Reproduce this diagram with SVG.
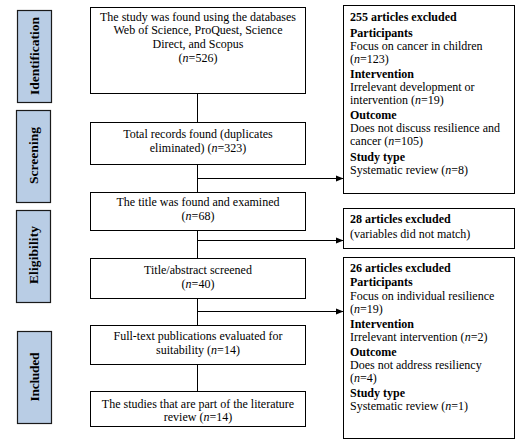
<svg xmlns="http://www.w3.org/2000/svg" width="528" height="445" viewBox="0 0 528 445">
<defs>
<marker id="ah" viewBox="0 0 10 10" refX="10" refY="5" markerWidth="8" markerHeight="8" markerUnits="userSpaceOnUse" orient="auto">
<path d="M0,1 L10,5 L0,9 z" fill="#000"/>
</marker>
<style>
.box{fill:#fff;stroke:#000;stroke-width:1}
.side{fill:#b9cde5;stroke:#1a1a1a;stroke-width:1.2}
.t{font-family:"Liberation Serif","Times New Roman",serif;font-size:12px;fill:#000}
.c{text-anchor:middle}
.b{font-weight:bold}
.sl{font-family:"Liberation Serif","Times New Roman",serif;font-size:13.5px;font-weight:bold;text-anchor:middle;fill:#000}
.ln{stroke:#000;stroke-width:1;fill:none}
</style>
</defs>
<rect width="528" height="445" fill="#fff"/>

<g id="side-identification">
<rect class="side" x="17.5" y="10.5" width="34" height="92"/>
<text class="sl" transform="translate(38.5,56) rotate(-90)" textLength="78" lengthAdjust="spacing">Identification</text>
</g>
<g id="side-screening">
<rect class="side" x="16.5" y="110.5" width="34" height="92"/>
<text class="sl" transform="translate(37.5,155.5) rotate(-90)" textLength="57" lengthAdjust="spacing">Screening</text>
</g>
<g id="side-eligibility">
<rect class="side" x="16.5" y="210.5" width="34" height="92"/>
<text class="sl" transform="translate(37.5,255) rotate(-90)" textLength="58" lengthAdjust="spacing">Eligibility</text>
</g>
<g id="side-included">
<rect class="side" x="17.5" y="331.5" width="34" height="92"/>
<text class="sl" transform="translate(38.5,377) rotate(-90)" textLength="49" lengthAdjust="spacing">Included</text>
</g>

<g id="connectors">
<line class="ln" x1="197.5" y1="93" x2="197.5" y2="122"/>
<line class="ln" x1="197.5" y1="164" x2="197.5" y2="192"/>
<line class="ln" x1="197.5" y1="230" x2="197.5" y2="258"/>
<line class="ln" x1="197.5" y1="298" x2="197.5" y2="325"/>
<line class="ln" x1="197.5" y1="364" x2="197.5" y2="391"/>
<line class="ln" x1="197.5" y1="178.5" x2="343.5" y2="178.5" marker-end="url(#ah)"/>
<line class="ln" x1="197.5" y1="240.5" x2="343.5" y2="240.5" marker-end="url(#ah)"/>
<line class="ln" x1="197.5" y1="311.5" x2="343.5" y2="311.5" marker-end="url(#ah)"/>
</g>

<g id="box-identified">
<rect class="box" x="90.5" y="7.5" width="215" height="86"/>
<text class="t c" x="198" y="20.5">The study was found using the databases</text>
<text class="t c" x="198" y="34">Web of Science,  ProQuest, Science</text>
<text class="t c" x="198" y="47.5">Direct, and Scopus</text>
<text class="t c" x="198" y="61.5">(<tspan font-style="italic">n</tspan>=526)</text>
</g>
<g id="box-total">
<rect class="box" x="90.5" y="122.5" width="215" height="42"/>
<text class="t c" x="198" y="138">Total records found (duplicates</text>
<text class="t c" x="198" y="151.5">eliminated)  (<tspan font-style="italic">n</tspan>=323)</text>
</g>
<g id="box-title">
<rect class="box" x="90.5" y="192.5" width="215" height="38"/>
<text class="t c" x="198" y="206">The title was found and examined</text>
<text class="t c" x="198" y="220">(<tspan font-style="italic">n</tspan>=68)</text>
</g>
<g id="box-abstract">
<rect class="box" x="90.5" y="258.5" width="215" height="40"/>
<text class="t c" x="198" y="274">Title/abstract  screened</text>
<text class="t c" x="198" y="288">(<tspan font-style="italic">n</tspan>=40)</text>
</g>
<g id="box-fulltext">
<rect class="box" x="90.5" y="325.5" width="215" height="39"/>
<text class="t c" x="198" y="340">Full-text publications  evaluated for</text>
<text class="t c" x="198" y="354">suitability  (<tspan font-style="italic">n</tspan>=14)</text>
</g>
<g id="box-included">
<rect class="box" x="90.5" y="391.5" width="215" height="35"/>
<text class="t c" x="198" y="407.5">The studies that are part of the literature</text>
<text class="t c" x="198" y="420.5">review (<tspan font-style="italic">n</tspan>=14)</text>
</g>

<g id="excl-255">
<rect class="box" x="343.5" y="5.5" width="171" height="188"/>
<text class="t b" x="350" y="21">255 articles excluded</text>
<text class="t b" x="350" y="37">Participants</text>
<text class="t" x="350" y="50">Focus on cancer  in children</text>
<text class="t" x="350" y="63">(<tspan font-style="italic">n</tspan>=123)</text>
<text class="t b" x="350" y="78">Intervention</text>
<text class="t" x="350" y="91">Irrelevant development  or</text>
<text class="t" x="350" y="104">intervention  (<tspan font-style="italic">n</tspan>=19)</text>
<text class="t b" x="350" y="119">Outcome</text>
<text class="t" x="350" y="132">Does not discuss resilience  and</text>
<text class="t" x="350" y="145">cancer (<tspan font-style="italic">n</tspan>=105)</text>
<text class="t b" x="350" y="161">Study type</text>
<text class="t" x="350" y="174">Systematic review  (<tspan font-style="italic">n</tspan>=8)</text>
</g>
<g id="excl-28">
<rect class="box" x="343.5" y="208.5" width="171" height="40"/>
<text class="t b" x="350" y="223">28 articles excluded</text>
<text class="t" x="350" y="238">(variables did not match)</text>
</g>
<g id="excl-26">
<rect class="box" x="343.5" y="257.5" width="171" height="181"/>
<text class="t b" x="350" y="272">26 articles excluded</text>
<text class="t b" x="350" y="286">Participants</text>
<text class="t" x="350" y="300">Focus on individual  resilience</text>
<text class="t" x="350" y="313">(<tspan font-style="italic">n</tspan>=19)</text>
<text class="t b" x="350" y="328">Intervention</text>
<text class="t" x="350" y="341">Irrelevant intervention  (<tspan font-style="italic">n</tspan>=2)</text>
<text class="t b" x="350" y="356">Outcome</text>
<text class="t" x="350" y="369">Does not address resiliency</text>
<text class="t" x="350" y="382">(<tspan font-style="italic">n</tspan>=4)</text>
<text class="t b" x="350" y="397">Study type</text>
<text class="t" x="350" y="410">Systematic review  (<tspan font-style="italic">n</tspan>=1)</text>
</g>
</svg>
